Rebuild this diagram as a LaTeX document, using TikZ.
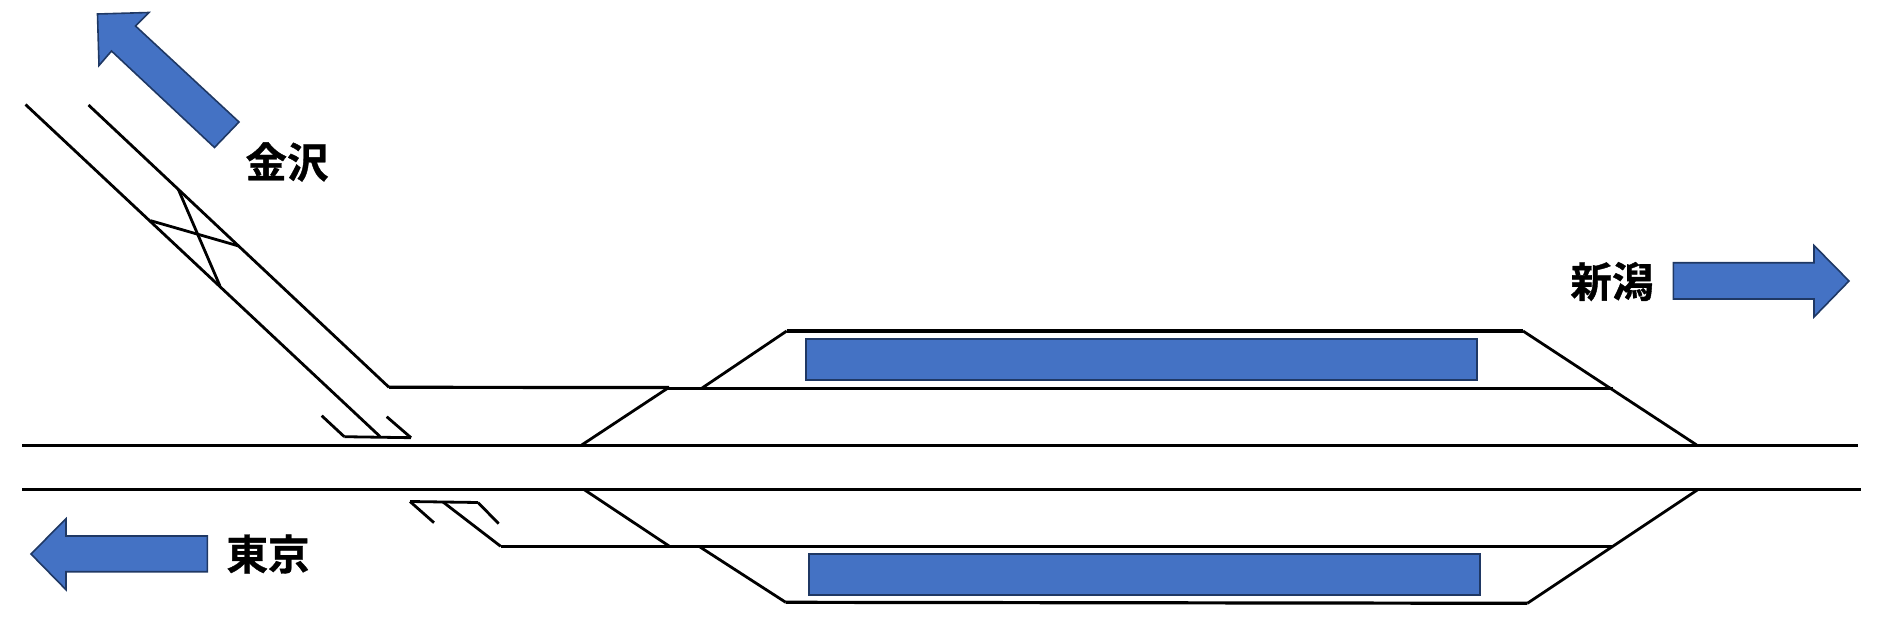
\documentclass[tikz,border=0pt]{standalone}
\usepackage{fontspec}
\newfontfamily\cjk[FakeBold=0.9]{Noto Sans CJK JP Bold}
\definecolor{arrowfill}{HTML}{4472C4}
\definecolor{arrowedge}{HTML}{1F3864}
\tikzset{
  rail/.style={draw=black,line width=3.2pt},
  thinrail/.style={draw=black,line width=2.8pt},
  blockarrow/.style={draw=arrowedge,fill=arrowfill,line width=1.6pt,line join=miter},
  platform/.style={draw=arrowedge,fill=arrowfill,line width=2pt,inner sep=0pt,minimum width=0pt},
  place/.style={font=\cjk\fontsize{41.5}{41.5}\selectfont,text=black,inner sep=0pt}
}
\begin{document}
\begin{tikzpicture}[x=1pt,y=-1pt]
\useasboundingbox (0,0) rectangle (1892,634);
% arrows
\draw[blockarrow] (97.5,14) -- (149,12.5) -- (135.5,26) -- (239,122) -- (214.5,147.5) -- (111.5,51) -- (99,65.5) -- cycle;
\draw[blockarrow] (1673.3,262.7) -- (1814,262.7) -- (1814,245.5) -- (1849,281) -- (1814,317) -- (1814,299) -- (1673.3,299) -- cycle;
\draw[blockarrow] (207.3,536) -- (66,536) -- (66,518.7) -- (31,554) -- (66,589.7) -- (66,571.7) -- (207.3,571.7) -- cycle;
% platforms
\node[platform,minimum width=671.6pt,minimum height=41pt] (upperplatform) at (1141.5,359.5) {};
\node[platform,minimum width=671pt,minimum height=41pt] (lowerplatform) at (1144.5,574.5) {};
% labels
\node[place] (kanazawa) at (287,162) {金沢};
\node[place] (niigata) at (1612,281.5) {新潟};
\node[place] (tokyo) at (268,554) {東京};
% track points
\coordinate (m1l) at (22,445.3);
\coordinate (m1r) at (1858,445.3);
\coordinate (m2l) at (22,489.3);
\coordinate (m2r) at (1861,489.3);
\coordinate (a1) at (25.5,104.5);
\coordinate (a2) at (380,436.5);
\coordinate (b1) at (88.5,105);
\coordinate (b2) at (389,387.3);
\coordinate (b3) at (669,387.5);
\coordinate (c1) at (581.7,445);
\coordinate (c2) at (668,388);
\coordinate (u1) at (668,388.3);
\coordinate (u2) at (1612.7,388.3);
\coordinate (t1) at (701.7,388.3);
\coordinate (t2) at (786.7,331);
\coordinate (t3) at (1523,331);
\coordinate (t4) at (1696.7,445);
\coordinate (d1) at (584,489.5);
\coordinate (d2) at (669,546);
\coordinate (l1) at (443,502);
\coordinate (l2) at (500.7,546.3);
\coordinate (l3) at (1613,546.3);
\coordinate (s1) at (410,501.5);
\coordinate (s2) at (478,502.5);
\coordinate (s3) at (434,522.7);
\coordinate (s4) at (498.7,523.7);
\coordinate (v1) at (700,547);
\coordinate (v2) at (785.7,602.3);
\coordinate (v3) at (1527.3,603.3);
\coordinate (v4) at (1698,489.5);
\coordinate (w1) at (321.7,415.7);
\coordinate (w2) at (344.3,436.7);
\coordinate (w3) at (411,437.7);
\coordinate (w4) at (386.7,416.7);
\coordinate (x1) at (178.3,189.3);
\coordinate (x2) at (220,286);
\coordinate (x3) at (150.7,220.7);
\coordinate (x4) at (238.7,246);
% tracks
\draw[rail] (m1l) -- (m1r);
\draw[rail] (m2l) -- (m2r);
\draw[thinrail] (a1) -- (a2);
\draw[thinrail] (b1) -- (b2);
\draw[rail] (b2) -- (b3);
\draw[thinrail] (c1) -- (c2);
\draw[rail] (u1) -- (u2);
\draw[thinrail] (t1) -- (t2);
\draw[rail] (t2) -- (t3);
\draw[thinrail] (t3) -- (t4);
\draw[thinrail] (d1) -- (d2);
\draw[thinrail] (l1) -- (l2);
\draw[rail] (l2) -- (l3);
\draw[thinrail] (s1) -- (s2);
\draw[thinrail] (s1) -- (s3);
\draw[thinrail] (s2) -- (s4);
\draw[thinrail] (v1) -- (v2);
\draw[rail] (v2) -- (v3);
\draw[thinrail] (v3) -- (v4);
\draw[thinrail] (w1) -- (w2);
\draw[thinrail] (w2) -- (w3);
\draw[thinrail] (w3) -- (w4);
\draw[thinrail] (x1) -- (x2);
\draw[thinrail] (x3) -- (x4);
\end{tikzpicture}
\end{document}
